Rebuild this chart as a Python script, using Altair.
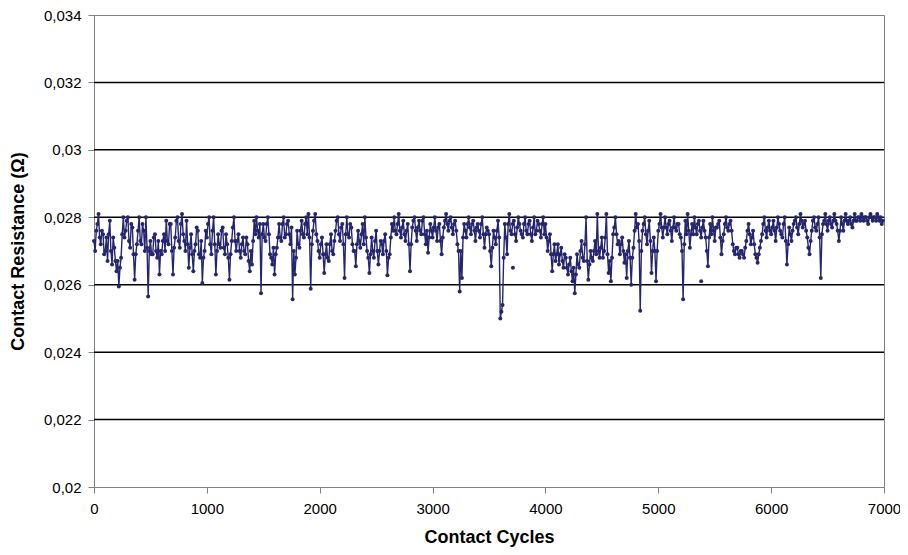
import altair as alt
import pandas as pd

# Contact resistance in milliohm, read at cycles 0, 20, 40, ... (one row = 200 cycles)
res_mohm = [
    27.3, 27.6, 28.1, 27.2, 27.5, 27.0, 26.7, 27.9, 26.6, 27.1,
    26.4, 25.95, 26.8, 28.0, 27.6, 28.0, 27.1, 27.7, 26.15, 27.2,
    28.0, 27.2, 27.6, 28.0, 25.65, 27.3, 26.9, 27.5, 26.8, 26.3,
    26.9, 27.5, 27.9, 27.2, 27.8, 26.3, 27.4, 28.0, 27.1, 28.1,
    27.3, 27.9, 26.5, 27.5, 26.4, 27.2, 27.6, 26.8, 26.05, 27.0,
    27.4, 28.0, 26.9, 28.0, 26.3, 27.5, 27.1, 27.7, 26.9, 27.2,
    26.15, 27.3, 28.0, 27.0, 27.5, 26.8, 27.4, 26.9, 27.2, 26.4,
    26.6, 27.9, 28.0, 27.4, 25.75, 27.8, 27.3, 28.0, 26.9, 26.6,
    26.3, 27.1, 27.8, 27.3, 28.0, 27.5, 27.9, 27.2, 25.57, 26.3,
    27.6, 27.1, 27.9, 27.4, 28.0, 28.1, 25.88, 27.6, 28.1, 27.3,
    26.8, 27.4, 26.35, 27.2, 26.7, 27.5, 26.9, 27.6, 28.0, 27.3,
    27.8, 26.2, 28.0, 27.4, 27.7, 27.0, 26.55, 27.6, 27.1, 27.8,
    28.0, 27.0, 26.35, 27.4, 26.8, 27.6, 26.6, 27.3, 26.9, 27.5,
    26.28, 26.9, 27.8, 28.0, 27.5, 28.1, 27.4, 27.9, 27.3, 27.8,
    26.4, 27.7, 28.0, 27.3, 27.9, 27.5, 28.0, 27.2, 26.95, 27.8,
    27.4, 28.0, 27.3, 27.8, 26.9, 27.7, 28.1, 27.6, 28.0, 27.5,
    27.9, 27.2, 25.8, 26.2, 27.8, 27.4, 28.0, 27.5, 27.9, 27.3,
    27.8, 27.4, 28.0, 27.1, 27.7, 27.5, 26.55, 27.6, 27.2, 27.9,
    25.0, 25.4, 27.8, 26.9, 28.1, 27.5, 27.9, 27.3, 28.0, 27.6,
    27.4, 28.0, 27.5, 27.9, 27.3, 28.0, 27.6, 27.8, 27.4, 28.0,
    27.8, 27.0, 27.5, 26.4, 27.2, 26.9, 26.6, 27.1, 26.5, 26.8,
    26.3, 26.8, 26.1, 25.75, 26.9, 26.5, 27.3, 26.7, 28.0, 26.15,
    27.0, 26.7, 27.3, 28.1, 26.8, 27.4, 27.0, 28.1, 26.35, 26.1,
    27.5, 28.0, 27.2, 26.9, 27.4, 26.65, 26.2, 27.3, 26.0, 27.1,
    28.1, 27.8, 25.23, 27.6, 28.0, 27.2, 27.9, 26.35, 27.4, 26.1,
    27.6, 28.1, 27.4, 28.0, 27.5, 27.9, 27.3, 28.0, 27.6, 27.8,
    27.4, 25.57, 27.9, 28.1, 27.1, 27.8, 28.0, 27.5, 27.9, 27.4,
    27.9, 27.4, 26.55, 27.8, 28.0, 27.3, 27.7, 27.9, 26.9, 27.5,
    28.0, 27.6, 27.9, 27.2, 26.9, 27.1, 26.8, 27.0, 26.8, 27.3,
    27.8, 27.2, 27.6, 26.9, 26.65, 27.1, 27.5, 28.0, 27.4, 27.9,
    27.5, 27.9, 27.3, 28.0, 27.6, 27.4, 28.0, 26.6, 27.7, 27.3,
    27.8, 28.0, 27.5, 28.1, 27.7, 27.9, 27.4, 26.9, 27.6, 28.0,
    27.6, 28.0, 26.2, 27.8, 28.1, 27.6, 28.0, 27.7, 28.1, 27.8,
    27.3, 28.0, 27.6, 28.1, 27.8, 28.0, 27.7, 28.1, 27.9, 28.0,
    28.1, 27.9, 28.0, 27.8, 28.1, 27.9, 28.0, 28.1, 27.9, 27.8,
]

# readings at cycles 10, 30, 50, ... (in between the ones above)
res_mid_mohm = [
    27.0, 27.8, 27.4, 27.6, 26.9, 27.4, 27.5, 27.0, 27.4, 26.7,
    26.7, 26.5, 27.5, 27.4, 27.9, 27.3, 27.8, 26.9, 26.9, 27.6,
    27.3, 27.8, 27.0, 27.1, 27.0, 26.9, 27.4, 27.0, 27.3, 27.0,
    27.3, 27.0, 27.3, 27.8, 27.0, 27.1, 27.9, 27.3, 27.8, 27.5,
    27.0, 27.2, 27.1, 26.9, 27.0, 27.7, 26.9, 27.3, 26.8, 27.6,
    27.8, 27.2, 27.6, 27.2, 27.0, 27.2, 27.6, 27.1, 27.5, 26.8,
    26.9, 27.7, 27.3, 27.3, 27.0, 27.2, 27.0, 27.4, 26.7, 27.0,
    27.3, 27.5, 27.6, 27.8, 27.5, 27.4, 27.8, 27.5, 26.8, 27.1,
    26.9, 27.4, 27.4, 27.8, 27.4, 27.8, 27.5, 27.7, 27.0, 26.8,
    27.2, 27.6, 27.5, 27.8, 27.5, 27.4, 27.2, 27.9, 27.5, 27.0,
    27.2, 26.9, 26.9, 26.8, 27.2, 27.0, 27.3, 27.9, 27.5, 27.7,
    27.2, 27.5, 27.5, 27.8, 27.2, 27.0, 27.2, 27.3, 27.5, 27.2,
    27.4, 26.8, 26.9, 27.0, 27.3, 27.0, 27.0, 27.2, 27.3, 27.0,
    26.8, 27.4, 27.6, 27.6, 27.8, 27.6, 27.7, 27.5, 27.6, 27.2,
    27.2, 27.9, 27.6, 27.7, 27.6, 27.9, 27.5, 27.6, 27.4, 27.6,
    27.7, 27.6, 27.7, 27.3, 27.4, 27.9, 27.8, 27.9, 27.7, 27.8,
    27.6, 27.0, 27.0, 27.4, 27.6, 27.8, 27.7, 27.8, 27.6, 27.7,
    27.6, 27.8, 27.5, 27.5, 27.6, 27.0, 27.1, 27.4, 27.6, 27.4,
    25.2, 26.8, 27.4, 27.8, 27.6, 27.8, 27.5, 27.7, 27.8, 27.5,
    27.8, 27.6, 27.8, 27.5, 27.7, 27.5, 27.9, 27.6, 27.8, 27.5,
    27.4, 27.3, 26.9, 26.9, 26.7, 27.2, 26.9, 26.7, 26.9, 26.5,
    26.6, 26.4, 26.5, 26.3, 26.6, 27.0, 26.8, 27.2, 26.7, 26.6,
    26.8, 27.0, 26.9, 27.0, 27.1, 26.8, 27.4, 26.9, 26.7, 26.8,
    27.7, 27.5, 27.3, 27.2, 27.0, 26.9, 27.0, 26.8, 26.8, 27.6,
    27.7, 27.3, 27.0, 27.8, 27.5, 27.6, 27.3, 27.0, 27.0, 27.0,
    27.8, 27.7, 27.7, 27.7, 27.8, 27.6, 27.7, 27.7, 27.8, 27.5,
    27.0, 27.2, 27.5, 27.6, 27.5, 27.5, 27.7, 27.8, 27.6, 27.7,
    27.6, 27.0, 27.4, 27.5, 27.6, 27.7, 27.8, 27.4, 27.3, 27.8,
    27.7, 27.8, 27.6, 27.0, 27.1, 26.9, 27.0, 26.9, 27.1, 27.6,
    27.5, 27.4, 27.2, 26.8, 26.9, 27.3, 27.8, 27.6, 27.7, 27.6,
    27.7, 27.6, 27.7, 27.8, 27.5, 27.8, 27.3, 27.2, 27.5, 27.6,
    27.9, 27.7, 27.8, 27.9, 27.8, 27.6, 27.1, 27.3, 27.9, 27.7,
    27.8, 27.4, 27.5, 27.9, 27.8, 27.9, 27.8, 27.9, 27.9, 27.6,
    27.6, 27.8, 27.9, 27.9, 27.9, 27.8, 27.9, 27.9, 28.0, 27.9,
    28.0, 28.0, 27.9, 28.0, 28.0, 28.0, 27.9, 28.0, 28.0, 27.9,
]

# isolated readings (no connecting line)
iso_cycles = [3712, 5380]
iso_mohm = [26.5, 26.1]

grid_values = [0.022, 0.024, 0.026, 0.028, 0.030, 0.032]
y_ticks = [0.020, 0.022, 0.024, 0.026, 0.028, 0.030, 0.032, 0.034]
x_ticks = [0, 1000, 2000, 3000, 4000, 5000, 6000, 7000]

rows = []
for i, v in enumerate(res_mohm):
    rows.append((i * 20, v / 1000))
for i, v in enumerate(res_mid_mohm):
    rows.append((i * 20 + 10, v / 1000))
df = pd.DataFrame(rows, columns=["cycles", "res"]).sort_values("cycles")
df_iso = pd.DataFrame({"cycles": iso_cycles, "res": [v / 1000 for v in iso_mohm]})
df_grid = pd.DataFrame({"g": grid_values})

COLOR = "#26266f"
FONT = "Liberation Sans"

xscale = alt.Scale(domain=[0, 7000], nice=False, zero=False)
yscale = alt.Scale(domain=[0.020, 0.034], nice=False, zero=False)

PW, PH = 790, 472

xaxis = alt.Axis(
    values=x_ticks, format="d", title="Contact Cycles", grid=False,
    labelFontSize=15, titleFontSize=18, titleFontWeight="bold",
    labelFont=FONT, titleFont=FONT, labelColor="black", titleColor="black",
    domainColor="#808080", tickColor="#808080", tickSize=6,
    labelPadding=8, labelFlush=False,
    titleY=50, titleBaseline="middle",
)
yaxis = alt.Axis(
    values=y_ticks, title="Contact Resistance (Ω)", grid=False,
    labelExpr="replace(format(datum.value, '.3~f'), '.', ',')",
    labelFontSize=15, titleFontSize=18, titleFontWeight="bold",
    labelFont=FONT, titleFont=FONT, labelColor="black", titleColor="black",
    domainColor="#808080", tickColor="#808080", tickSize=6,
    labelPadding=7,
    titleX=-76, titleY=PH / 2, titleBaseline="middle", titleAngle=270,
)

grid = alt.Chart(df_grid).mark_rule(color="black", strokeWidth=1.5).encode(
    y=alt.Y("g:Q", scale=yscale, axis=yaxis)
)

line = alt.Chart(df).mark_line(color=COLOR, strokeWidth=1.4, point=alt.OverlayMarkDef(
    color=COLOR, filled=True, size=16, opacity=1)).encode(
    x=alt.X("cycles:Q", scale=xscale, axis=xaxis),
    y=alt.Y("res:Q", scale=yscale, axis=yaxis),
)

iso = alt.Chart(df_iso).mark_point(color=COLOR, filled=True, size=16, opacity=1).encode(
    x=alt.X("cycles:Q", scale=xscale),
    y=alt.Y("res:Q", scale=yscale),
)

chart = alt.layer(grid, line, iso).properties(
    width=PW, height=PH,
    autosize=alt.AutoSizeParams(type="none"),
    padding={"left": 86, "top": 7, "right": 16, "bottom": 60},
    background="white",
).configure_view(stroke="#808080", strokeWidth=1)

chart.save("out.html", embed_options={"renderer": "svg", "actions": False})
